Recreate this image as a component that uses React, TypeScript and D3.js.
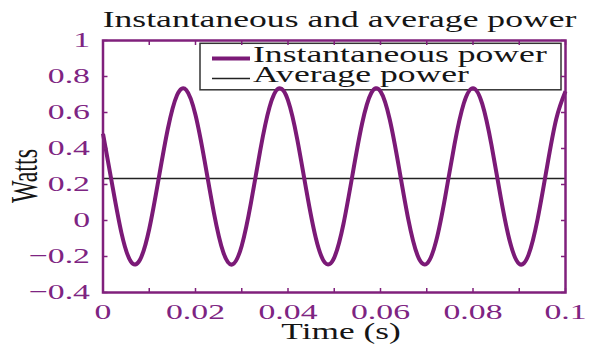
import React from "react";
import * as d3 from "d3";

const timeValues = [
  0, 0.002, 0.004, 0.006, 0.008, 0.01, 0.012, 0.014, 0.016, 0.018,
  0.02, 0.022, 0.024, 0.026, 0.028, 0.03, 0.032, 0.034, 0.036, 0.038,
  0.04, 0.042, 0.044, 0.046, 0.048, 0.05, 0.052, 0.054, 0.056, 0.058,
  0.06, 0.062, 0.064, 0.066, 0.068, 0.07, 0.072, 0.074, 0.076, 0.078,
  0.08, 0.082, 0.084, 0.086, 0.088, 0.09, 0.092, 0.094, 0.096, 0.098, 0.1,
];
const instantaneousPower = [
  0.482, 0.198, -0.07, -0.227, -0.218, -0.047, 0.227, 0.507, 0.696, 0.725,
  0.586, 0.327, 0.04, -0.176, -0.244, -0.14, 0.099, 0.39, 0.629, 0.734,
  0.667, 0.451, 0.163, -0.096, -0.235, -0.206, -0.018, 0.262, 0.536, 0.708,
  0.717, 0.561, 0.293, 0.008, -0.193, -0.24, -0.117, 0.133, 0.423, 0.65,
  0.735, 0.648, 0.419, 0.129, -0.12, -0.241, -0.191, 0.012, 0.297, 0.564, 0.718,
];
const averagePower = 0.233;
const xDomain = [0, 0.1];
const yDomain = [-0.4, 1];
const titleText = "Instantaneous and average power";
const xLabel = "Time (s)";
const yLabel = "Watts";
const legendLabels = ["Instantaneous power", "Average power"];

const W = 590;
const H = 350;
const M = { left: 103, right: 565.5, top: 40.5, bottom: 292.5 };
const PURPLE = "#7b1a77";
const AXIS = "#80207c";
const TEXTP = "#7e2482";
const FONT = "'Liberation Serif', 'Times New Roman', serif";
const SX = 1.57;

function SText(props: {
  x: number;
  y: number;
  size: number;
  anchor?: string;
  fill?: string;
  rotate?: number;
  children: React.ReactNode;
}) {
  const { x, y, size, anchor = "start", fill = "#111", rotate = 0 } = props;
  return (
    <g transform={`translate(${x},${y}) scale(${SX},1)${rotate ? ` rotate(${rotate})` : ""}`}>
      <text
        x={0}
        y={0}
        fontFamily={FONT}
        fontSize={size}
        textAnchor={anchor as any}
        fill={fill}
      >
        {props.children}
      </text>
    </g>
  );
}

export default function App() {
  const x = d3.scaleLinear().domain(xDomain).range([M.left, M.right]);
  const y = d3.scaleLinear().domain(yDomain).range([M.bottom, M.top]);
  const data = timeValues.map((t, i) => [t, instantaneousPower[i]] as [number, number]);
  const line = d3
    .line<[number, number]>()
    .x((d) => x(d[0]))
    .y((d) => y(d[1]))
    .curve(d3.curveNatural);

  const yTicks = y.ticks(7);
  const xMajor = x.ticks(5);
  const xMinor = x.ticks(10);
  const fmt = (v: number) => d3.format("")(+v.toFixed(4));
  const tl = 4.5;

  return (
    <svg
      width={W}
      height={H}
      style={{ position: "absolute", left: 0, top: 0, background: "#fff" }}
    >
      <rect x={0} y={0} width={W} height={H} fill="#fff" />
      {/* title */}
      <SText x={339.5} y={27} size={22.7} anchor="middle" fill="#151515">
        {titleText}
      </SText>

      {/* legend (under the curve) */}
      <rect
        x={200}
        y={43.3}
        width={361}
        height={46.5}
        fill="#fff"
        stroke="#333"
        strokeWidth={1.5}
      />
      <line x1={212} x2={250} y1={58.5} y2={58.5} stroke={PURPLE} strokeWidth={4} />
      <line x1={212} x2={250} y1={78.5} y2={78.5} stroke="#222" strokeWidth={1.5} />
      <SText x={253} y={62} size={22.7} fill="#151515">
        {legendLabels[0]}
      </SText>
      <SText x={253} y={82} size={22.7} fill="#151515">
        {legendLabels[1]}
      </SText>

      {/* average line */}
      <line
        x1={x(xDomain[0])}
        x2={x(xDomain[1])}
        y1={y(averagePower)}
        y2={y(averagePower)}
        stroke="#222"
        strokeWidth={1.5}
      />

      {/* instantaneous */}
      <path d={line(data) || ""} fill="none" stroke={PURPLE} strokeWidth={4} strokeLinejoin="round" />

      {/* axes box */}
      <rect
        x={M.left}
        y={M.top}
        width={M.right - M.left}
        height={M.bottom - M.top}
        fill="none"
        stroke={AXIS}
        strokeWidth={2.5}
      />
      {yTicks.map((v) => (
        <g key={"yt" + v}>
          <line x1={M.left} x2={M.left + tl} y1={y(v)} y2={y(v)} stroke={AXIS} strokeWidth={1.5} />
          <line x1={M.right} x2={M.right - tl} y1={y(v)} y2={y(v)} stroke={AXIS} strokeWidth={1.5} />
          <SText x={90} y={y(v) + 6.5} size={21.5} anchor="end" fill={TEXTP}>
            {fmt(v)}
          </SText>
        </g>
      ))}
      {xMinor.map((v) => (
        <g key={"xt" + v}>
          <line x1={x(v)} x2={x(v)} y1={M.bottom} y2={M.bottom - tl} stroke={AXIS} strokeWidth={1.5} />
          <line x1={x(v)} x2={x(v)} y1={M.top} y2={M.top + tl} stroke={AXIS} strokeWidth={1.5} />
        </g>
      ))}
      {xMajor.map((v) => (
        <SText key={"xl" + v} x={x(v)} y={M.bottom + 26.5} size={21.5} anchor="middle" fill={TEXTP}>
          {fmt(v)}
        </SText>
      ))}

      {/* axis labels */}
      <SText x={341} y={339} size={22.5} anchor="middle" fill="#151515">
        {xLabel}
      </SText>
      <SText x={37} y={176} size={24} anchor="middle" fill="#151515" rotate={-90}>
        {yLabel}
      </SText>
    </svg>
  );
}
